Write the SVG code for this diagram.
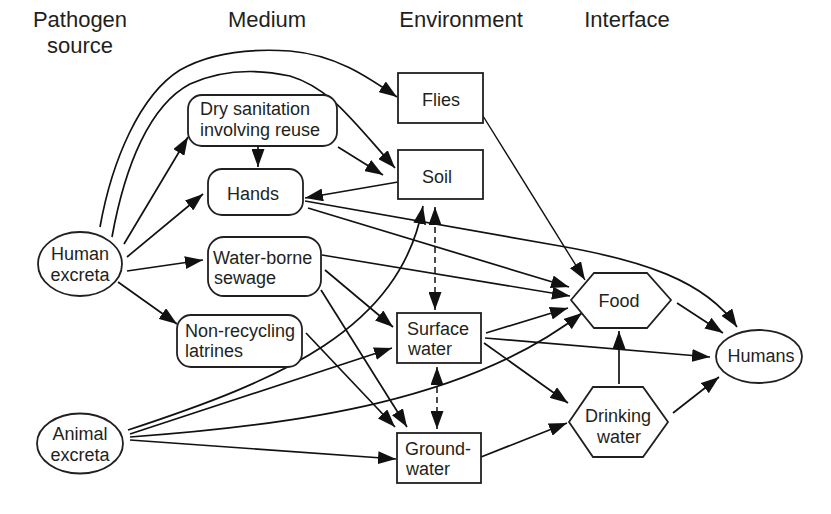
<svg xmlns="http://www.w3.org/2000/svg" width="831" height="514" viewBox="0 0 831 514">
<defs>
<style>
text{font-family:"Liberation Sans",Arial,sans-serif;fill:#231f20}
.h{font-size:22px;text-anchor:middle}
.t{font-size:18px}
.c{text-anchor:middle}
.n{fill:#fff;stroke:#231f20;stroke-width:1.8}
.e{fill:none;stroke:#111;stroke-width:1.7;marker-end:url(#ah)}
.d{fill:none;stroke:#111;stroke-width:1.5;stroke-dasharray:6 4;marker-end:url(#ah);marker-start:url(#ah)}
</style>
<marker id="ah" markerUnits="userSpaceOnUse" markerWidth="18" markerHeight="13" refX="18" refY="6.5" orient="auto-start-reverse" viewBox="0 0 18 13">
<path d="M0,0 L18,6.5 L0,13 z" fill="#111"/>
</marker>
</defs>
<rect width="831" height="514" fill="#fff"/>
<g id="headers">
<text class="h" x="80" y="27">Pathogen</text>
<text class="h" x="80" y="53">source</text>
<text class="h" x="267" y="27">Medium</text>
<text class="h" x="461" y="27">Environment</text>
<text class="h" x="627" y="27">Interface</text>
</g>
<g id="connectors">
<path class="e" d="M100,227 C112,160 140,95 180,70 C215,50 260,49 290,51 C335,55 365,75 397,97"/>
<path class="e" d="M112,237 C125,165 150,105 190,84 C225,68 262,70 290,76 C330,88 352,120 395,168"/>
<path class="e" d="M124,244 L188,137"/>
<path class="e" d="M127,257 L203,194"/>
<path class="e" d="M127,271 L203,260"/>
<path class="e" d="M118,282 L177,324"/>
<path class="e" d="M258,147 L258,167"/>
<path class="e" d="M338,147 L383,175"/>
<path class="e" d="M398,182 L305,198"/>
<path class="e" d="M305,201 L560,246 C640,260 705,280 737,327"/>
<path class="e" d="M308,208 L569,287"/>
<path class="e" d="M322,255 L570,296"/>
<path class="e" d="M325,270 L393,327"/>
<path class="e" d="M321,290 L407,427"/>
<path class="e" d="M306,333 L395,427"/>
<path class="e" d="M128,430 C280,380 400,330 423,206"/>
<path class="e" d="M130,434 L392,348"/>
<path class="e" d="M130,437 C300,425 470,400 582,313"/>
<path class="e" d="M130,440 L396,459"/>
<path class="d" d="M435,207 L435,310"/>
<path class="d" d="M437,367 L437,429"/>
<path class="e" d="M483,116 L585,280" style="stroke-width:1.4"/>
<path class="e" d="M486,333 L568,308"/>
<path class="e" d="M485,338 L710,357"/>
<path class="e" d="M484,343 L568,403"/>
<path class="e" d="M481,457 L567,423"/>
<path class="e" d="M619,384 L619,331"/>
<path class="e" d="M677,303 L723,333"/>
<path class="e" d="M673,413 L719,377"/>
</g>
<g id="human-excreta">
<ellipse class="n" cx="80" cy="264" rx="42" ry="32"/>
<text class="t c" x="80" y="260">Human</text>
<text class="t c" x="80" y="281">excreta</text>
</g>
<g id="animal-excreta">
<ellipse class="n" cx="80" cy="443.5" rx="43" ry="30"/>
<text class="t c" x="80" y="440">Animal</text>
<text class="t c" x="80" y="461">excreta</text>
</g>
<g id="dry-sanitation">
<rect class="n" x="188" y="95" width="149" height="51" rx="14"/>
<text class="t" x="200" y="115">Dry sanitation</text>
<text class="t" x="200" y="136">involving reuse</text>
</g>
<g id="hands">
<rect class="n" x="208" y="169" width="95" height="46" rx="14"/>
<text class="t c" x="253" y="200">Hands</text>
</g>
<g id="water-borne-sewage">
<rect class="n" x="208" y="237" width="113" height="59" rx="16"/>
<text class="t" x="213" y="264">Water-borne</text>
<text class="t" x="214" y="284">sewage</text>
</g>
<g id="non-recycling-latrines">
<rect class="n" x="177" y="315" width="125" height="52" rx="14"/>
<text class="t" x="185" y="337">Non-recycling</text>
<text class="t" x="185" y="357">latrines</text>
</g>
<g id="flies">
<rect class="n" x="398" y="73" width="85" height="50"/>
<text class="t c" x="441" y="106">Flies</text>
</g>
<g id="soil">
<rect class="n" x="398" y="150" width="85" height="49"/>
<text class="t c" x="437" y="183">Soil</text>
</g>
<g id="surface-water">
<rect class="n" x="397" y="313" width="84" height="50"/>
<text class="t" x="407" y="335">Surface</text>
<text class="t" x="408" y="355">water</text>
</g>
<g id="groundwater">
<rect class="n" x="397" y="433" width="84" height="50"/>
<text class="t" x="405" y="455">Ground-</text>
<text class="t" x="406" y="475">water</text>
</g>
<g id="food">
<polygon class="n" points="571,300 594,273 647,273 671,300 647,328 594,328"/>
<text class="t c" x="619" y="307">Food</text>
</g>
<g id="drinking-water">
<polygon class="n" points="569,422 593,387 643,387 668,422 643,457 593,457"/>
<text class="t c" x="618" y="422">Drinking</text>
<text class="t c" x="619" y="443">water</text>
</g>
<g id="humans">
<ellipse class="n" cx="759" cy="356.5" rx="43" ry="26.5"/>
<text class="t c" x="761" y="362">Humans</text>
</g>
</svg>
